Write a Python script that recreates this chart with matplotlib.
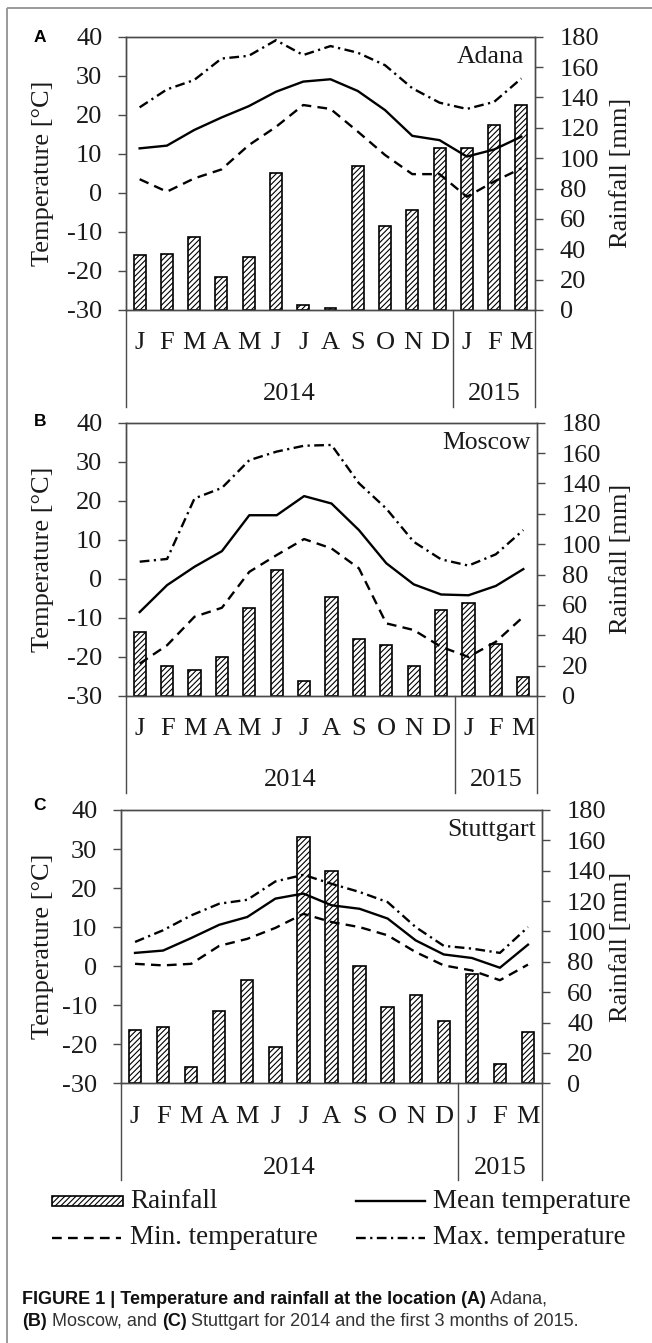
import matplotlib
matplotlib.use("Agg")
import matplotlib.pyplot as plt
from matplotlib.patches import Rectangle

plt.rcParams['font.family'] = ['Liberation Serif', 'DejaVu Serif']
plt.rcParams['hatch.linewidth'] = 0.8
plt.rcParams['lines.scale_dashes'] = False
plt.rcParams['axes.unicode_minus'] = False

# ---------------- data ----------------
months = ['J', 'F', 'M', 'A', 'M', 'J', 'J', 'A', 'S', 'O', 'N', 'D', 'J', 'F', 'M']
years = ['2014', '2015']
year_first = [0, 12]
year_last = [11, 14]
locations = ['Adana', 'Moscow', 'Stuttgart']
panel_letters = ['A', 'B', 'C']

adana_rain = [36, 37, 48, 22, 35, 90, 3, 1, 95, 55, 66, 107, 107, 122, 135]
adana_mean = [11.4, 12.1, 16.1, 19.3, 22.2, 25.9, 28.5, 29.1, 26.1, 21.2, 14.6, 13.5, 9.3, 11.1, 14.4]
adana_min = [3.5, 0.3, 3.7, 6.0, 12.2, 16.9, 22.5, 21.5, 15.7, 9.7, 4.8, 4.8, -1.0, 2.9, 6.3]
adana_max = [21.9, 26.5, 28.9, 34.4, 35.1, 39.1, 35.3, 37.6, 35.9, 32.7, 26.8, 23.1, 21.5, 23.3, 29.3]

moscow_rain = [42, 20, 17, 25.5, 58, 83, 10, 65, 37.5, 33.5, 19.5, 56.5, 61, 34, 12.5]
moscow_mean = [-8.5, -1.6, 3.1, 7.1, 16.3, 16.3, 21.2, 19.3, 12.5, 4.0, -1.4, -4.0, -4.2, -1.8, 2.5]
moscow_min = [-21.7, -17.0, -9.7, -7.4, 1.8, 6.1, 10.2, 7.8, 2.7, -11.4, -13.1, -17.4, -20.0, -16.1, -9.7]
moscow_max = [4.4, 5.1, 20.6, 23.3, 30.4, 32.6, 34.1, 34.3, 24.5, 18.0, 9.5, 5.0, 3.4, 6.3, 12.5]

stuttgart_rain = [35, 37, 11, 47.5, 68, 24, 162, 140, 77, 50, 58, 41, 72, 13, 34]
stuttgart_mean = [3.4, 4.0, 7.2, 10.6, 12.6, 17.3, 18.6, 15.6, 14.7, 12.2, 6.6, 3.0, 2.1, -0.4, 5.5]
stuttgart_min = [0.6, 0.2, 0.6, 5.2, 7.0, 9.8, 13.4, 11.3, 10.0, 7.9, 3.6, 0.2, -1.1, -3.6, 0.4]
stuttgart_max = [6.2, 9.2, 13.0, 16.0, 17.0, 21.7, 23.4, 21.1, 19.0, 16.4, 10.0, 5.2, 4.5, 3.4, 10.0]

rain_data = [adana_rain, moscow_rain, stuttgart_rain]
mean_data = [adana_mean, moscow_mean, stuttgart_mean]
min_data = [adana_min, moscow_min, stuttgart_min]
max_data = [adana_max, moscow_max, stuttgart_max]

# ---------------- layout (pixels) ----------------
W, H = 652, 1343
DPI = 100
# left, right, top, bottom of each plot area
panel_boxes = [(126, 535, 36.7, 310.0), (126, 537, 422.7, 696.0), (121, 542, 810.0, 1083.3)]
panel_letter_y = [38, 421, 805]

TXT = '#1a1a1a'
SPINE = '#4a4a4a'
FS = 19

fig = plt.figure(figsize=(W / DPI, H / DPI), dpi=DPI)

dash_min = (7.0, 4.5)
dash_max = (7.0, 3.2, 1.6, 3.2)

for k in range(3):
    L, R, T, B = panel_boxes[k]
    rect = [L / W, 1 - B / H, (R - L) / W, (B - T) / H]
    ax_r = fig.add_axes(rect)
    ax_t = ax_r.twinx()
    x = list(range(len(months)))

    ax_r.bar(x, rain_data[k], width=0.44, color='white', edgecolor='black',
             hatch='//////', linewidth=1.2, zorder=2)
    ax_r.set_ylim(0, 180)
    ax_r.set_yticks(range(0, 181, 20))
    ax_r.set_xlim(-0.5, len(months) - 0.5)
    ax_r.yaxis.tick_right()
    ax_r.yaxis.set_label_position('right')

    ax_t.plot(x, mean_data[k], color='black', lw=1.7, solid_joinstyle='round', zorder=3)
    ax_t.plot(x, min_data[k], color='black', lw=1.7, dashes=dash_min, zorder=3)
    ax_t.plot(x, max_data[k], color='black', lw=1.7, dashes=dash_max, zorder=3)
    ax_t.set_ylim(-30, 40)
    ax_t.set_yticks(range(-30, 41, 10))
    ax_t.yaxis.tick_left()
    ax_t.yaxis.set_label_position('left')

    for a in (ax_r, ax_t):
        for s in a.spines.values():
            s.set_color(SPINE)
            s.set_linewidth(1.0)

    ax_t.tick_params(axis='y', direction='out', length=6, width=1.0, color=SPINE,
                     labelcolor=TXT, labelsize=FS, pad=11)
    ax_r.tick_params(axis='y', direction='out', length=6, width=1.0, color=SPINE,
                     labelcolor=TXT, labelsize=FS, pad=12)

    ax_r.set_xticks(x)
    ax_r.set_xticklabels(months)
    ax_r.tick_params(axis='x', length=0, pad=16, labelsize=FS, labelcolor=TXT)

    # axis titles
    ax_t.set_ylabel('Temperature [°C]', fontsize=FS, color=TXT)
    ax_t.yaxis.set_label_coords((54 - L) / (R - L), 0.5)
    ax_r.set_ylabel('Rainfall [mm]', fontsize=FS, color=TXT)
    ax_r.yaxis.set_label_coords((610 - L) / (R - L), 0.5)

    # location name
    ax_t.text(0.985 if k else 0.973, 0.925, locations[k], transform=ax_t.transAxes,
              ha='right', va='center', fontsize=FS - 0.5, color=TXT)

    # year groups and separator lines
    ph = B - T
    xt = ax_r.get_xaxis_transform()
    for xs in [-0.5, year_last[0] + 0.5, len(months) - 0.5]:
        ax_r.plot([xs, xs], [0, -97 / ph], transform=xt, clip_on=False,
                  color=SPINE, lw=1.0)
    for yi in range(len(years)):
        xc = (year_first[yi] + year_last[yi]) / 2.0
        ax_r.text(xc, -90.5 / ph, years[yi], transform=xt, ha='center',
                  va='baseline', fontsize=FS, color=TXT)

# ---------------- overlay (pixel coordinates) ----------------
ov = fig.add_axes([0, 0, 1, 1], zorder=-5)
ov.set_xlim(0, W)
ov.set_ylim(H, 0)
ov.axis('off')
ov.patch.set_alpha(0)

# outer frame
ov.add_patch(Rectangle((7, 8), W + 20, H + 20, fill=False, edgecolor='#9a9a9a', lw=1.4))

for k in range(3):
    ov.text(40, panel_letter_y[k], panel_letters[k], family='Liberation Sans',
            fontweight='bold', fontsize=12.5, ha='center', va='center', color='black')

# legend
ov2 = fig.add_axes([0, 0, 1, 1], zorder=5)
ov2.set_xlim(0, W)
ov2.set_ylim(H, 0)
ov2.axis('off')
ov2.patch.set_alpha(0)

ly1, ly2 = 1201, 1238
ov2.add_patch(Rectangle((52, ly1 - 5), 71, 10, facecolor='white', edgecolor='black',
                        hatch='//////', lw=1.2))
ov2.text(130, ly1, 'Rainfall', fontsize=FS + 0.5, va='center', ha='left', color=TXT)
ov2.plot([356, 425], [ly1, ly1], color='black', lw=1.7)
ov2.text(433, ly1, 'Mean temperature', fontsize=FS + 0.5, va='center', ha='left', color=TXT)
ov2.plot([52, 121], [ly2, ly2], color='black', lw=1.7, dashes=dash_min)
ov2.text(130, ly2, 'Min. temperature', fontsize=FS + 0.5, va='center', ha='left', color=TXT)
ov2.plot([356, 425], [ly2, ly2], color='black', lw=1.7, dashes=dash_max)
ov2.text(433, ly2, 'Max. temperature', fontsize=FS + 0.5, va='center', ha='left', color=TXT)

# caption with mixed weights
cap_lines = [
    [('FIGURE 1 | Temperature and rainfall at the location (A)', 'bold'), (' Adana,', 'normal')],
    [('(B)', 'bold'), (' Moscow, and ', 'normal'), ('(C)', 'bold'),
     (' Stuttgart for 2014 and the first 3 months of 2015.', 'normal')],
]
cap_y = [1299, 1321]
renderer = fig.canvas.get_renderer()
for line, yy in zip(cap_lines, cap_y):
    xx = 22
    for txt, wt in line:
        t = ov2.text(xx, yy, txt, family='Liberation Sans', fontweight=wt, fontsize=13,
                     va='center', ha='left', color='#111111' if wt == 'bold' else '#333333')
        bb = t.get_window_extent(renderer)
        xx += bb.width * W / (fig.get_figwidth() * DPI)

fig.savefig('out.png', dpi=DPI)
